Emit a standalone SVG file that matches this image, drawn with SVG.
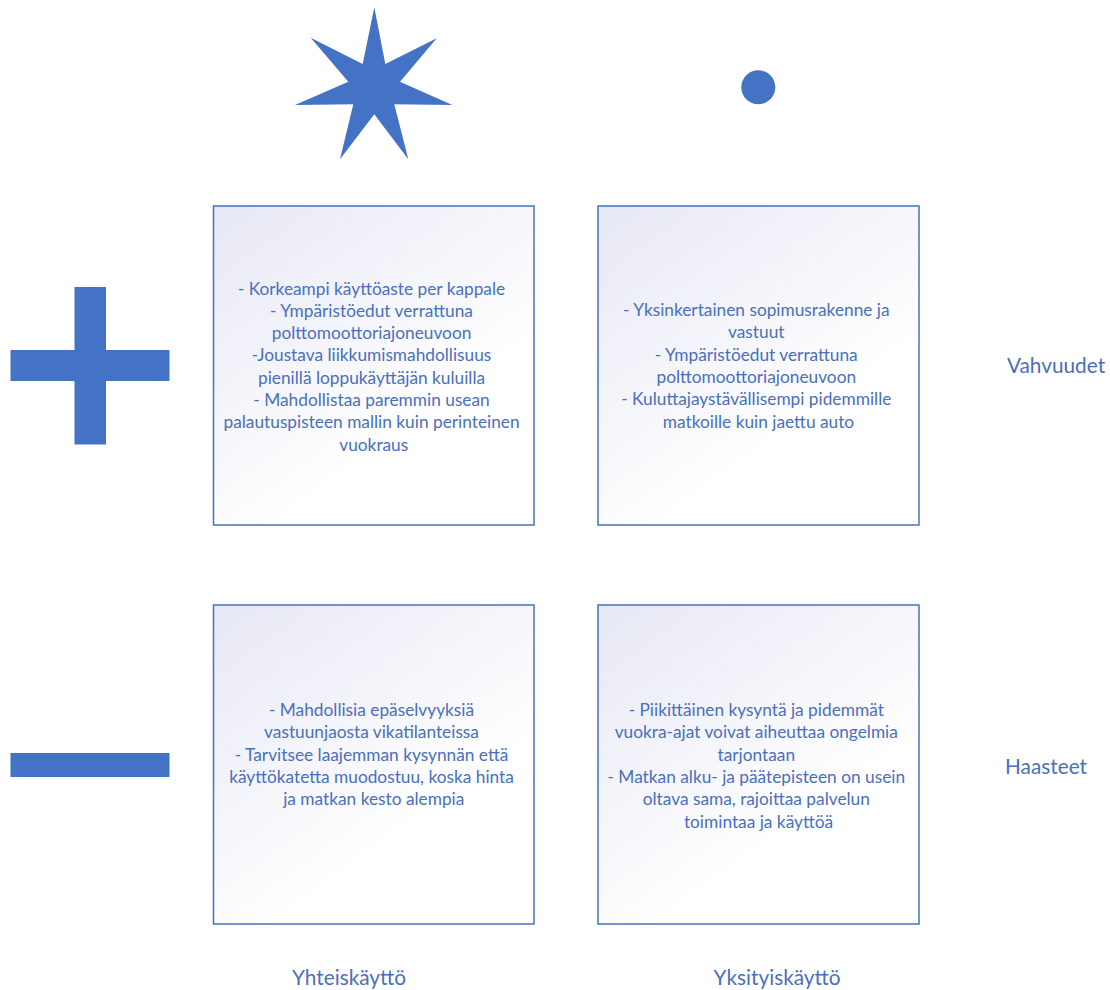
<svg xmlns="http://www.w3.org/2000/svg" width="1110" height="990" viewBox="0 0 1110 990">
  <style>
    .shape { fill: #4472c4; }
    .box { fill: url(#boxFill); stroke: #4472c4; stroke-width: 1.5; }
    .txt { font-family: Lato, "Liberation Sans", sans-serif; font-size: 17.3px; fill: #4a6fbd; text-anchor: middle; }
    .lbl { font-family: Lato, "Liberation Sans", sans-serif; font-size: 20.8px; fill: #4a6fbd; text-anchor: middle; }
  </style>
  <defs>
    <linearGradient id="boxFill" x1="0" y1="0" x2="0.55" y2="0.75">
      <stop offset="0" stop-color="#e6e8f4"/>
      <stop offset="1" stop-color="#ffffff"/>
    </linearGradient>
  </defs>
  <rect width="1110" height="990" fill="#ffffff"/>

  <!-- symbols -->
  <g id="star">
    <polygon class="shape" points="374.3,7.3 385.3,64 436.7,38.3 400,81.7 452.3,105 394.3,104.3 408.3,159.3 374.3,114.3 340,159.3 353.3,104.3 295,105 348.3,81.7 310.7,37.7 362.7,64"/>
  </g>
  <g id="dot">
    <circle class="shape" cx="758.3" cy="87.3" r="17"/>
  </g>
  <g id="plus">
    <path class="shape" d="M74.5,287 H106 V350 H169.5 V381 H106 V444.5 H74.5 V381 H10.5 V350 H74.5 Z"/>
  </g>
  <g id="minus">
    <rect class="shape" x="10.5" y="753" width="159" height="24"/>
  </g>

  <!-- quadrant boxes -->
  <g id="box-shared-strengths">
    <rect class="box" x="213.5" y="206" width="320.5" height="319"/>
    <text class="txt">
      <tspan x="373.75" y="294.5">- Korkeampi käyttöaste per kappale</tspan>
      <tspan x="373.75" y="316.8">- Ympäristöedut verrattuna</tspan>
      <tspan x="373.75" y="339.1">polttomoottoriajoneuvoon</tspan>
      <tspan x="373.75" y="361.4">-Joustava liikkumismahdollisuus</tspan>
      <tspan x="373.75" y="383.7">pienillä loppukäyttäjän kuluilla</tspan>
      <tspan x="373.75" y="406">- Mahdollistaa paremmin usean</tspan>
      <tspan x="373.75" y="428.3">palautuspisteen mallin kuin perinteinen</tspan>
      <tspan x="373.75" y="450.6">vuokraus</tspan>
    </text>
  </g>
  <g id="box-private-strengths">
    <rect class="box" x="598" y="206" width="321" height="319"/>
    <text class="txt">
      <tspan x="758.5" y="316">- Yksinkertainen sopimusrakenne ja</tspan>
      <tspan x="758.5" y="338.3">vastuut</tspan>
      <tspan x="758.5" y="360.6">- Ympäristöedut verrattuna</tspan>
      <tspan x="758.5" y="382.9">polttomoottoriajoneuvoon</tspan>
      <tspan x="758.5" y="405.2">- Kuluttajaystävällisempi pidemmille</tspan>
      <tspan x="758.5" y="427.5">matkoille kuin jaettu auto</tspan>
    </text>
  </g>
  <g id="box-shared-challenges">
    <rect class="box" x="213.5" y="605" width="320.5" height="319"/>
    <text class="txt">
      <tspan x="373.75" y="716">- Mahdollisia epäselvyyksiä</tspan>
      <tspan x="373.75" y="738.3">vastuunjaosta vikatilanteissa</tspan>
      <tspan x="373.75" y="760.6">- Tarvitsee laajemman kysynnän että</tspan>
      <tspan x="373.75" y="782.9">käyttökatetta muodostuu, koska hinta</tspan>
      <tspan x="373.75" y="805.2">ja matkan kesto alempia</tspan>
    </text>
  </g>
  <g id="box-private-challenges">
    <rect class="box" x="598" y="605" width="321" height="319"/>
    <text class="txt">
      <tspan x="758.5" y="716">- Piikittäinen kysyntä ja pidemmät</tspan>
      <tspan x="758.5" y="738.3">vuokra-ajat voivat aiheuttaa ongelmia</tspan>
      <tspan x="758.5" y="760.6">tarjontaan</tspan>
      <tspan x="758.5" y="782.9">- Matkan alku- ja päätepisteen on usein</tspan>
      <tspan x="758.5" y="805.2">oltava sama, rajoittaa palvelun</tspan>
      <tspan x="758.5" y="827.5">toimintaa ja käyttöä</tspan>
    </text>
  </g>

  <!-- axis labels -->
  <g id="labels">
    <text class="lbl" x="1056" y="373">Vahvuudet</text>
    <text class="lbl" x="1046" y="774">Haasteet</text>
    <text class="lbl" x="349" y="985">Yhteiskäyttö</text>
    <text class="lbl" x="777" y="985">Yksityiskäyttö</text>
  </g>
  <g id="connectors"/>
</svg>
